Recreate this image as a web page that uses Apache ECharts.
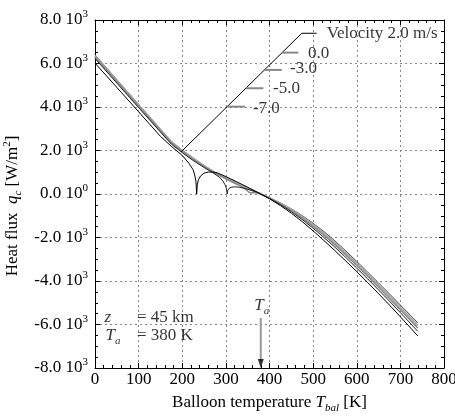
<!DOCTYPE html>
<html>
<head>
<meta charset="utf-8">
<script src="https://cdn.jsdelivr.net/npm/echarts@6/dist/echarts.min.js"></script>
<style>
  html, body { margin: 0; padding: 0; background: #fff; }
  #chart { width: 455px; height: 419px; }
</style>
</head>
<body>
<div id="chart"></div>
<script>
// balloon temperature [K] and heat flux [W/m2], one pair of arrays per velocity
const tempV2 = [0, 50, 100, 150, 175, 200, 225, 250, 275, 300, 325, 350, 380,
  400, 425, 450, 475, 500, 525, 550, 575, 600, 625, 650, 675, 700, 725, 740];
const fluxV2 = [6400, 5260, 4120, 2980, 2420, 2020, 1660, 1310, 1000, 750, 510, 270, 0,
  -170, -408, -683, -995, -1345, -1733, -2158, -2620, -3100, -3590, -4090, -4595, -5105, -5617, -5925];

const tempV0 = [0, 50, 100, 150, 175, 200, 225, 250, 275, 300, 325, 350, 370, 380,
  400, 425, 450, 475, 500, 525, 550, 575, 600, 625, 650, 675, 700, 725, 740];
const fluxV0 = [6350, 5220, 4090, 2960, 2400, 1990, 1630, 1290, 985, 735, 495, 255, 90, 0,
  -180, -433, -723, -1050, -1415, -1815, -2248, -2712, -3194, -3686, -4188, -4697, -5213, -5733, -6045];

const tempVm3 = [0, 50, 100, 150, 175, 200, 225, 250, 275, 300, 325, 340, 348, 353, 355, 358, 363, 370, 376, 380,
  400, 425, 450, 475, 500, 525, 550, 575, 600, 625, 650, 675, 700, 725, 740];
const fluxVm3 = [6300, 5170, 4040, 2910, 2350, 1950, 1590, 1260, 960, 700, 450, 290, 170, 80, 0, 45, 65, 55, 30, 0,
  -190, -458, -763, -1105, -1485, -1898, -2338, -2805, -3288, -3782, -4287, -4800, -5321, -5848, -6165];

const tempVm5 = [0, 50, 100, 150, 175, 200, 225, 250, 270, 285, 293, 298, 301, 302.5, 303, 304, 307, 312, 320, 330, 345, 360, 370, 380,
  400, 425, 450, 475, 500, 525, 550, 575, 600, 625, 650, 675, 700, 725, 740];
const fluxVm5 = [6230, 5100, 3970, 2850, 2290, 1900, 1540, 1220, 980, 780, 600, 430, 270, 130, 0, 150, 250, 310, 330, 315, 250, 160, 90, 0,
  -202, -489, -813, -1174, -1573, -2001, -2450, -2920, -3406, -3902, -4410, -4928, -5456, -5993, -6315];

const tempVm7 = [0, 50, 100, 150, 175, 200, 215, 225, 229, 231.5, 233, 234.5, 237, 242, 250, 260, 270, 280, 300, 325, 350, 380,
  400, 425, 450, 475, 500, 525, 550, 575, 600, 625, 650, 675, 700, 725, 740];
const fluxVm7 = [6020, 4900, 3780, 2650, 2190, 1770, 1420, 1110, 830, 560, 0, 420, 650, 830, 960, 1010, 1010, 975, 800, 560, 310, 0,
  -220, -533, -883, -1270, -1695, -2145, -2607, -3082, -3570, -4070, -4582, -5107, -5645, -6195, -6525];

const velocityLabels = ['Velocity 2.0 m/s', '0.0', '-3.0', '-5.0', '-7.0'];
const ambientTemp = 380;

const serif = 'Liberation Serif';
const zip = (xs, ys) => xs.map((x, i) => [x, ys[i]]);

const chart = echarts.init(document.getElementById('chart'));

const yLabel = function (v) {
  if (v === 0) return '{b|0.0 10}{s|0}';
  return '{b|' + (v / 1000).toFixed(1) + ' 10}{s|3}';
};

const richBase = {
  b: { fontFamily: serif, fontSize: 17, color: '#000', lineHeight: 22 },
  s: { fontFamily: serif, fontSize: 11, color: '#000', verticalAlign: 'top', lineHeight: 11 },
  i: { fontFamily: serif, fontSize: 17, fontStyle: 'italic', color: '#000', lineHeight: 22 },
  n: { fontFamily: serif, fontSize: 17, color: '#000', lineHeight: 22 },
  sub: { fontFamily: serif, fontSize: 11, fontStyle: 'italic', color: '#000', verticalAlign: 'bottom', lineHeight: 12 }
};

const curve = (name, xs, ys, color, width) => ({
  name: name,
  type: 'line',
  data: zip(xs, ys),
  showSymbol: false,
  symbol: 'none',
  lineStyle: { color: color, width: width },
  silent: true,
  z: 3
});

const leader = (pts, color, width) => ({
  type: 'line',
  data: pts,
  showSymbol: false,
  symbol: 'none',
  lineStyle: { color: color, width: width },
  silent: true,
  z: 4
});

const textMark = (items) => ({
  type: 'scatter',
  symbolSize: 0,
  data: items,
  silent: true,
  z: 5,
  label: {
    show: true,
    position: 'right',
    distance: 0,
    formatter: p => p.data.text,
    fontFamily: serif,
    fontSize: 17,
    color: '#000',
    rich: richBase
  }
});

option = {
  animation: false,
  backgroundColor: '#fff',
  grid: { left: 95, right: 11, top: 20, bottom: 51, outerBoundsMode: 'none', containLabel: false },
  xAxis: [
    {
      type: 'value', min: 0, max: 800, interval: 100, position: 'bottom',
      name: '{n|Balloon temperature }{i|T}{sub|bal}{n| [K]}',
      nameLocation: 'middle', nameGap: 24,
      nameTextStyle: { rich: richBase },
      axisLine: { onZero: false, lineStyle: { color: '#000', width: 1 } },
      axisTick: { inside: true, length: 5, lineStyle: { color: '#000' } },
      minorTick: { show: true, splitNumber: 5, length: 3, lineStyle: { color: '#000' } },
      axisLabel: { fontFamily: serif, fontSize: 17, color: '#000', margin: 3 },
      splitLine: { show: true, lineStyle: { color: '#888', type: [2, 3], width: 1 } }
    },
    {
      type: 'value', min: 0, max: 800, interval: 100, position: 'top',
      axisLine: { onZero: false, lineStyle: { color: '#000', width: 1 } },
      axisTick: { inside: true, length: 5, lineStyle: { color: '#000' } },
      minorTick: { show: true, splitNumber: 5, length: 3, lineStyle: { color: '#000' } },
      axisLabel: { show: false },
      splitLine: { show: false }
    }
  ],
  yAxis: [
    {
      type: 'value', min: -8000, max: 8000, interval: 2000, position: 'left',
      name: '{n|Heat flux  }{i|q}{sub|c}{n| [W/m}{s|2}{n|]}',
      nameLocation: 'middle', nameGap: 59, nameRotate: 90,
      nameTextStyle: { rich: richBase, padding: [0, 24, 0, 0] },
      axisLine: { onZero: false, lineStyle: { color: '#000', width: 1 } },
      axisTick: { inside: true, length: 5, lineStyle: { color: '#000' } },
      minorTick: { show: true, splitNumber: 4, length: 3, lineStyle: { color: '#000' } },
      axisLabel: { formatter: yLabel, rich: richBase, margin: 7 },
      splitLine: { show: true, lineStyle: { color: '#888', type: [2, 3], width: 1 } }
    },
    {
      type: 'value', min: -8000, max: 8000, interval: 2000, position: 'right',
      axisLine: { onZero: false, lineStyle: { color: '#000', width: 1 } },
      axisTick: { inside: true, length: 5, lineStyle: { color: '#000' } },
      minorTick: { show: true, splitNumber: 4, length: 3, lineStyle: { color: '#000' } },
      axisLabel: { show: false },
      splitLine: { show: false }
    }
  ],
  series: [
    curve(velocityLabels[0], tempV2, fluxV2, '#444', 1),
    curve(velocityLabels[1], tempV0, fluxV0, '#aaa', 2),
    curve(velocityLabels[2], tempVm3, fluxVm3, '#888', 1.5),
    curve(velocityLabels[3], tempVm5, fluxVm5, '#222', 1),
    curve(velocityLabels[4], tempVm7, fluxVm7, '#000', 1),
    // legend leader lines
    leader([[197, 1930], [474, 7390], [508, 7390]], '#000', 1),
    leader([[429, 6500], [466, 6500]], '#888', 2),
    leader([[389, 5704], [428, 5704]], '#888', 2),
    leader([[346, 4862], [386, 4862]], '#888', 2),
    leader([[303, 4016], [344, 4016]], '#888', 2),
    // ambient temperature arrow
    {
      type: 'line',
      data: [[ambientTemp, -5700], [ambientTemp, -7700]],
      showSymbol: false,
      symbol: 'none',
      lineStyle: { color: '#999', width: 2 },
      silent: true,
      z: 4
    },
    {
      type: 'scatter',
      data: [[ambientTemp, -7790]],
      symbol: 'triangle',
      symbolRotate: 180,
      symbolSize: [6, 9],
      itemStyle: { color: '#000' },
      silent: true,
      z: 5
    },
    textMark([
      { value: [531, 7390], text: velocityLabels[0] },
      { value: [488, 6470], text: velocityLabels[1] },
      { value: [447, 5750], text: velocityLabels[2] },
      { value: [408, 4830], text: velocityLabels[3] },
      { value: [362, 3940], text: velocityLabels[4] },
      { value: [22, -5660], text: '{i|z}' },
      { value: [96, -5660], text: '{b|= 45 km}' },
      { value: [24, -6530], text: '{i|T}{sub|a}' },
      { value: [96, -6530], text: '{b|= 380 K}' },
      { value: [365, -5150], text: '{i|T}{sub|a}' }
    ])
  ]
};

chart.setOption(option);
</script>
</body>
</html>
